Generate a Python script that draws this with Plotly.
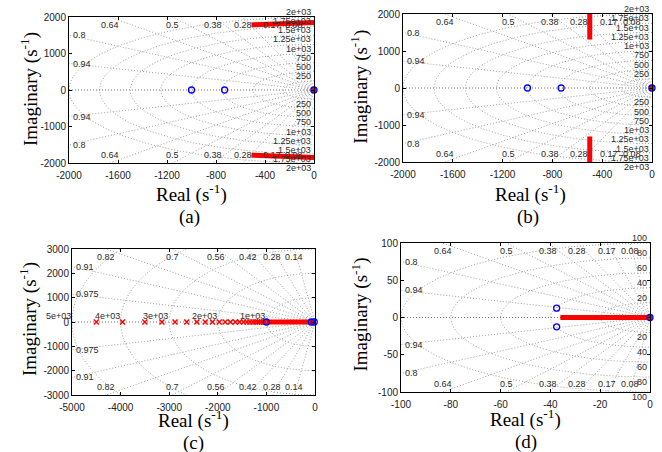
import numpy as np
import plotly.graph_objects as go

W, H = 662, 452

# ---------------- data ----------------
# Panel (a)
a_zero_re = [-1000, -730, 0]
a_zero_im = [0, 0, 0]
a_pole_re = [0]
a_pole_im = [0]
a_locus_up_re = [-510, 0]
a_locus_up_im = [1786, 1849]
a_locus_dn_re = [-510, 0]
a_locus_dn_im = [-1786, -1849]

# Panel (b)
b_zero_re = [-1000, -730, 0]
b_zero_im = [0, 0, 0]
b_pole_re = [0]
b_pole_im = [0]
b_locus_up_re = [-500, -500]
b_locus_up_im = [1310, 2000]
b_locus_dn_re = [-500, -500]
b_locus_dn_im = [-1310, -2000]

# Panel (c)
c_zero_re = [-1000, -75, -15]
c_zero_im = [0, 0, 0]
c_pole_re = [-4500, -3960, -3500, -3150, -2880, -2640, -2430, -2260, -2110,
             -1970, -1850, -1740, -1640, -1550, -1470, -1400, -1340, -1280,
             -1230, -1180, -1140, -1100, -1060, -1030]
c_pole_im = [0] * len(c_pole_re)
c_locus_re = [-1000, 0]
c_locus_im = [0, 0]

# Panel (d)
d_zero_re = [-37.5, -37.5, 0]
d_zero_im = [12.5, -12.5, 0]
d_pole_re = [0]
d_pole_im = [0]
d_locus_re = [-36, 0]
d_locus_im = [0, 0]

# grid values / tick labels
zeta_std = [0.08, 0.17, 0.28, 0.38, 0.5, 0.64, 0.8, 0.94]
zeta_std_labels = ["0.08", "0.17", "0.28", "0.38", "0.5", "0.64", "0.8", "0.94"]
zeta_c = [0.14, 0.28, 0.42, 0.56, 0.7, 0.82, 0.91, 0.975]
zeta_c_labels = ["0.14", "0.28", "0.42", "0.56", "0.7", "0.82", "0.91", "0.975"]

wn_ab = [250, 500, 750, 1000, 1250, 1500, 1750, 2000]
wn_ab_labels = ["250", "500", "750", "1e+03", "1.25e+03", "1.5e+03", "1.75e+03", "2e+03"]
wn_c = [1000, 2000, 3000, 4000, 5000]
wn_c_labels = ["1e+03", "2e+03", "3e+03", "4e+03", "5e+03"]
wn_d = [20, 40, 60, 80, 100]
wn_d_labels = ["20", "40", "60", "80", "100"]

ab_xticks = [-2000, -1600, -1200, -800, -400, 0]
ab_yticks = [-2000, -1000, 0, 1000, 2000]
c_xticks = [-5000, -4000, -3000, -2000, -1000, 0]
c_yticks = [-3000, -2000, -1000, 0, 1000, 2000, 3000]
d_xticks = [-100, -80, -60, -40, -20, 0]
d_yticks = [-100, -50, 0, 50, 100]

panels = [
    dict(ax="", box=(69, 314, 17, 163), xr=(-2000, 0), yr=(-2000, 2000),
         xt=ab_xticks, yt=ab_yticks, zeta=zeta_std, zl=zeta_std_labels,
         wn=wn_ab, wl=wn_ab_labels, mode="imag",
         zeros=(a_zero_re, a_zero_im), poles=(a_pole_re, a_pole_im), pmark="square",
         loci=[(a_locus_up_re, a_locus_up_im), (a_locus_dn_re, a_locus_dn_im)],
         real_t=(191.5, 193.5), letter=(189, 217), imag_t=(29, 89), name="(a)"),
    dict(ax="2", box=(403, 652, 14, 162), xr=(-2000, 0), yr=(-2000, 2000),
         xt=ab_xticks, yt=ab_yticks, zeta=zeta_std, zl=zeta_std_labels,
         wn=wn_ab, wl=wn_ab_labels, mode="imag",
         zeros=(b_zero_re, b_zero_im), poles=(b_pole_re, b_pole_im), pmark="square",
         loci=[(b_locus_up_re, b_locus_up_im), (b_locus_dn_re, b_locus_dn_im)],
         real_t=(530, 193.5), letter=(528, 217.5), imag_t=(360, 86.7), name="(b)"),
    dict(ax="3", box=(72, 315, 249, 395), xr=(-5000, 0), yr=(-3000, 3000),
         xt=c_xticks, yt=c_yticks, zeta=zeta_c, zl=zeta_c_labels,
         wn=wn_c, wl=wn_c_labels, mode="real",
         zeros=(c_zero_re, c_zero_im), poles=(c_pole_re, c_pole_im), pmark="x-thin",
         loci=[(c_locus_re, c_locus_im)],
         real_t=(193.5, 419.5), letter=(193.5, 442.5), imag_t=(28, 319), name="(c)"),
    dict(ax="4", box=(401, 650, 243, 392), xr=(-100, 0), yr=(-100, 100),
         xt=d_xticks, yt=d_yticks, zeta=zeta_std, zl=zeta_std_labels,
         wn=wn_d, wl=wn_d_labels, mode="imag",
         zeros=(d_zero_re, d_zero_im), poles=(d_pole_re, d_pole_im), pmark="square",
         loci=[(d_locus_re, d_locus_im)],
         real_t=(525.5, 418), letter=(525.5, 442), imag_t=(360, 314.5), name="(d)"),
]

GRID_COLOR = "#a0a0a0"
LABEL_COLOR = "#2a2a2a"
SANS = "Liberation Sans, Arial, sans-serif"
SERIF = "Liberation Serif, Times New Roman, serif"

fig = go.Figure()
layout = dict(width=W, height=H, margin=dict(l=0, r=0, t=0, b=0, autoexpand=False),
              paper_bgcolor="white", plot_bgcolor="white", showlegend=False)
annotations = []


def px2paper(px, py):
    return px / W, 1 - py / H


for p in panels:
    ax = p["ax"]
    xa, ya = "x" + ax, "y" + ax
    x0, x1, y0, y1 = p["box"]
    xmin, xmax = p["xr"]
    ymin, ymax = p["yr"]
    R = 4 * max(abs(xmin), ymax)

    # --- sgrid: damping rays ---
    gx, gy = [], []
    for z in p["zeta"]:
        s = np.sqrt(1 - z * z)
        gx += [0, -R * z, None, 0, -R * z, None]
        gy += [0, R * s, None, 0, -R * s, None]
    # natural-frequency semicircles
    th = np.linspace(np.pi / 2, 3 * np.pi / 2, 181)
    for w in p["wn"]:
        gx += list(w * np.cos(th)) + [None]
        gy += list(w * np.sin(th)) + [None]
    fig.add_trace(go.Scatter(x=gx, y=gy, mode="lines", xaxis=xa, yaxis=ya,
                             line=dict(color=GRID_COLOR, width=1, dash="1px,2px"),
                             hoverinfo="skip"))
    # real axis
    fig.add_trace(go.Scatter(x=[xmin, 0], y=[0, 0], mode="lines", xaxis=xa, yaxis=ya,
                             line=dict(color="#707070", width=1, dash="1px,2px"),
                             hoverinfo="skip"))

    # --- data ---
    for (lx, ly) in p["loci"]:
        fig.add_trace(go.Scatter(x=lx, y=ly, mode="lines", xaxis=xa, yaxis=ya,
                                 line=dict(color="#ff0000", width=5)))
    pr, pi_ = p["poles"]
    if p["pmark"] == "x-thin":
        fig.add_trace(go.Scatter(x=pr, y=pi_, mode="markers", xaxis=xa, yaxis=ya,
                                 cliponaxis=False,
                                 marker=dict(symbol="x-thin", size=5, color="#ff0000",
                                             line=dict(color="#ff0000", width=1.5))))
    else:
        fig.add_trace(go.Scatter(x=pr, y=pi_, mode="markers", xaxis=xa, yaxis=ya,
                                 cliponaxis=False,
                                 marker=dict(symbol="square", size=5, color="#ff0000")))
    zr, zi = p["zeros"]
    fig.add_trace(go.Scatter(x=zr, y=zi, mode="markers", xaxis=xa, yaxis=ya,
                             cliponaxis=False,
                             marker=dict(symbol="circle-open", size=6, color="#0000ff",
                                         line=dict(color="#0000ff", width=1.3))))

    # --- grid labels: damping ---
    gfont = dict(family=SANS, size=9, color=LABEL_COLOR)
    for z, lab in zip(p["zeta"], p["zl"]):
        s = np.sqrt(1 - z * z)
        xt = -ymax * z / s
        if xt >= xmin:
            annotations.append(dict(x=xt, y=ymax, xref=xa, yref=ya, text=lab, showarrow=False,
                                    xanchor="center", yanchor="top", yshift=-1, font=gfont))
            annotations.append(dict(x=xt, y=ymin, xref=xa, yref=ya, text=lab, showarrow=False,
                                    xanchor="center", yanchor="bottom", yshift=1, font=gfont))
        else:
            yl = -xmin * s / z
            annotations.append(dict(x=xmin, y=yl, xref=xa, yref=ya, text=lab, showarrow=False,
                                    xanchor="left", yanchor="middle", xshift=2, font=gfont))
            annotations.append(dict(x=xmin, y=-yl, xref=xa, yref=ya, text=lab, showarrow=False,
                                    xanchor="left", yanchor="middle", xshift=2, font=gfont))
    # --- grid labels: natural frequency ---
    for w, lab in zip(p["wn"], p["wl"]):
        if p["mode"] == "imag":
            annotations.append(dict(x=0, y=w, xref=xa, yref=ya, text=lab, showarrow=False,
                                    xanchor="right", yanchor="bottom", xshift=-1, yshift=-2,
                                    font=gfont))
            annotations.append(dict(x=0, y=-w, xref=xa, yref=ya, text=lab, showarrow=False,
                                    xanchor="right", yanchor="top", xshift=-1, yshift=2,
                                    font=gfont))
        else:
            annotations.append(dict(x=-w, y=0, xref=xa, yref=ya, text=lab, showarrow=False,
                                    xanchor="right", yanchor="bottom", xshift=1, yshift=-1,
                                    font=gfont))

    # --- axes ---
    dx0, _ = px2paper(x0, 0)
    dx1, _ = px2paper(x1, 0)
    _, dy1 = px2paper(0, y0)
    _, dy0 = px2paper(0, y1)
    tfont = dict(family=SANS, size=10, color="#222222")
    common = dict(showgrid=False, zeroline=False, showline=True, linecolor="black",
                  linewidth=1, mirror="ticks", ticks="inside", ticklen=3,
                  tickcolor="black", tickfont=tfont, fixedrange=True, automargin=False)
    layout["xaxis" + ax] = dict(domain=[dx0, dx1], range=list(p["xr"]), anchor=ya,
                                tickvals=p["xt"], ticktext=[str(v) for v in p["xt"]],
                                ticklabelstandoff=3, **common)
    layout["yaxis" + ax] = dict(domain=[dy0, dy1], range=list(p["yr"]), anchor=xa,
                                tickvals=p["yt"], ticktext=[str(v) for v in p["yt"]],
                                **common)

    # --- titles ---
    tx, ty = px2paper(*p["real_t"])
    annotations.append(dict(x=tx, y=ty, xref="paper", yref="paper", showarrow=False,
                            text="Real (s<sup>-1</sup>)", xanchor="center", yanchor="middle",
                            font=dict(family=SERIF, size=19, color="black")))
    lx_, ly_ = px2paper(*p["letter"])
    annotations.append(dict(x=lx_, y=ly_, xref="paper", yref="paper", showarrow=False,
                            text=p["name"], xanchor="center", yanchor="middle",
                            font=dict(family=SERIF, size=19, color="black")))
    ix, iy = px2paper(*p["imag_t"])
    annotations.append(dict(x=ix, y=iy, xref="paper", yref="paper", showarrow=False,
                            text="Imaginary (s<sup>-1</sup>)", textangle=-90,
                            xanchor="center", yanchor="middle",
                            font=dict(family=SERIF, size=19, color="black")))

layout["annotations"] = annotations
fig.update_layout(**layout)
fig.write_html("out.html",
               config={"displayModeBar": False, "staticPlot": True},
               post_script="document.body.style.margin='0';"
                           "document.body.style.overflow='hidden';")
